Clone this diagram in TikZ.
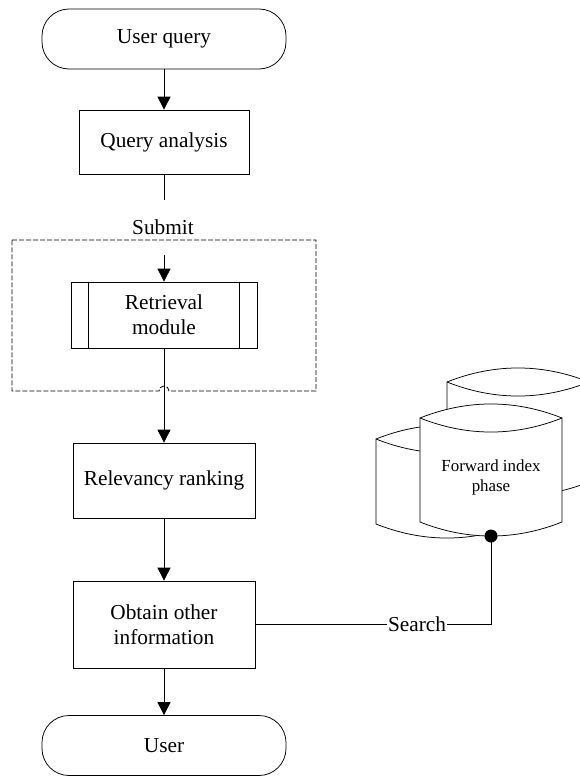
\documentclass[tikz,border=0pt]{standalone}
\usepackage{fontspec}
\setmainfont{Liberation Serif}
\usetikzlibrary{arrows.meta,positioning,calc}
\begin{document}
\begin{tikzpicture}[x=1pt,y=-1pt,line width=0.75pt,
  term/.style={draw,rectangle,rounded corners=27pt,minimum width=244pt,minimum height=60pt,inner sep=0pt,font=\fontsize{21.3}{25}\selectfont},
  proc/.style={draw,rectangle,inner sep=0pt,align=center,font=\fontsize{21.3}{25}\selectfont},
  txt/.style={inner sep=0pt,align=center,font=\fontsize{21.3}{25}\selectfont},
  small/.style={inner sep=0pt,align=center,font=\fontsize{16.9}{20}\selectfont},
  arr/.style={-{Triangle[length=13pt,width=13pt]}},
  dashbox/.style={dash pattern=on 5pt off 2pt,line width=0.8pt},
  can/.style={draw,fill=white,line width=0.75pt}]
\clip (0,0) rectangle (580,776);
\fill[white] (0,0) rectangle (580,776);

% cylinders (back to front)
\path[can] (447,382) .. controls (494,363.3) and (542,363.3) .. (589,382) -- (589,482)
  .. controls (542,500.7) and (494,500.7) .. (447,482) -- cycle;
\draw (447,382) .. controls (494,400.7) and (542,400.7) .. (589,382);
\path[can] (376,439) .. controls (423,420.3) and (471,420.3) .. (518,439) -- (518,524)
  .. controls (471,542.7) and (423,542.7) .. (376,524) -- cycle;
\draw (376,439) .. controls (423,457.7) and (471,457.7) .. (518,439);
\path[can] (420,418) .. controls (467,399.3) and (515,399.3) .. (562,418) -- (562,522)
  .. controls (515,540.7) and (467,540.7) .. (420,522) -- cycle;
\draw (420,418) .. controls (467,436.7) and (515,436.7) .. (562,418);
\node[small] (fi) at (491,477) {Forward index\\phase};
\coordinate (dot) at (491,536);

% dashed container with line hop
\draw[dashbox] (12,240) -- (316,240) -- (316,391) -- (169,391) arc (0:-180:5) -- (12,391) -- cycle;

% flow nodes
\node[term] (uq) at (164,39) {User query};
\node[proc,minimum width=170pt,minimum height=64pt] (qa) at (164,142) {Query analysis};
\node[txt] (sub) at (163,227) {Submit};
\node[proc,minimum width=186pt,minimum height=66pt] (rm) at (164,315) {Retrieval\\module};
\draw ([xshift=18pt]rm.north west) -- ([xshift=18pt]rm.south west);
\draw ([xshift=-18pt]rm.north east) -- ([xshift=-18pt]rm.south east);
\node[proc,minimum width=182pt,minimum height=75pt] (rr) at (164,480.5) {Relevancy ranking};
\node[proc,minimum width=182pt,minimum height=87pt] (ob) at (164,624.5) {Obtain other\\information};
\node[term] (us) at (164,745.5) {User};

\coordinate (s1) at (164,200);
\coordinate (s2) at (164,255);

% connectors
\draw[arr] (uq.south) -- (qa.north);
\draw (qa.south) -- (s1);
\draw[arr] (s2) -- (rm.north);
\draw[arr] (rm.south) -- (rr.north);
\draw[arr] (rr.south) -- (ob.north);
\draw[arr] (ob.south) -- (us.north);
\draw (ob.east) -- node[pos=0.686,txt,fill=white,inner xsep=1pt,inner ysep=2pt] {Search} (ob.east -| dot) -- (dot);
\fill (dot) circle (6.5pt);
\end{tikzpicture}
\end{document}
